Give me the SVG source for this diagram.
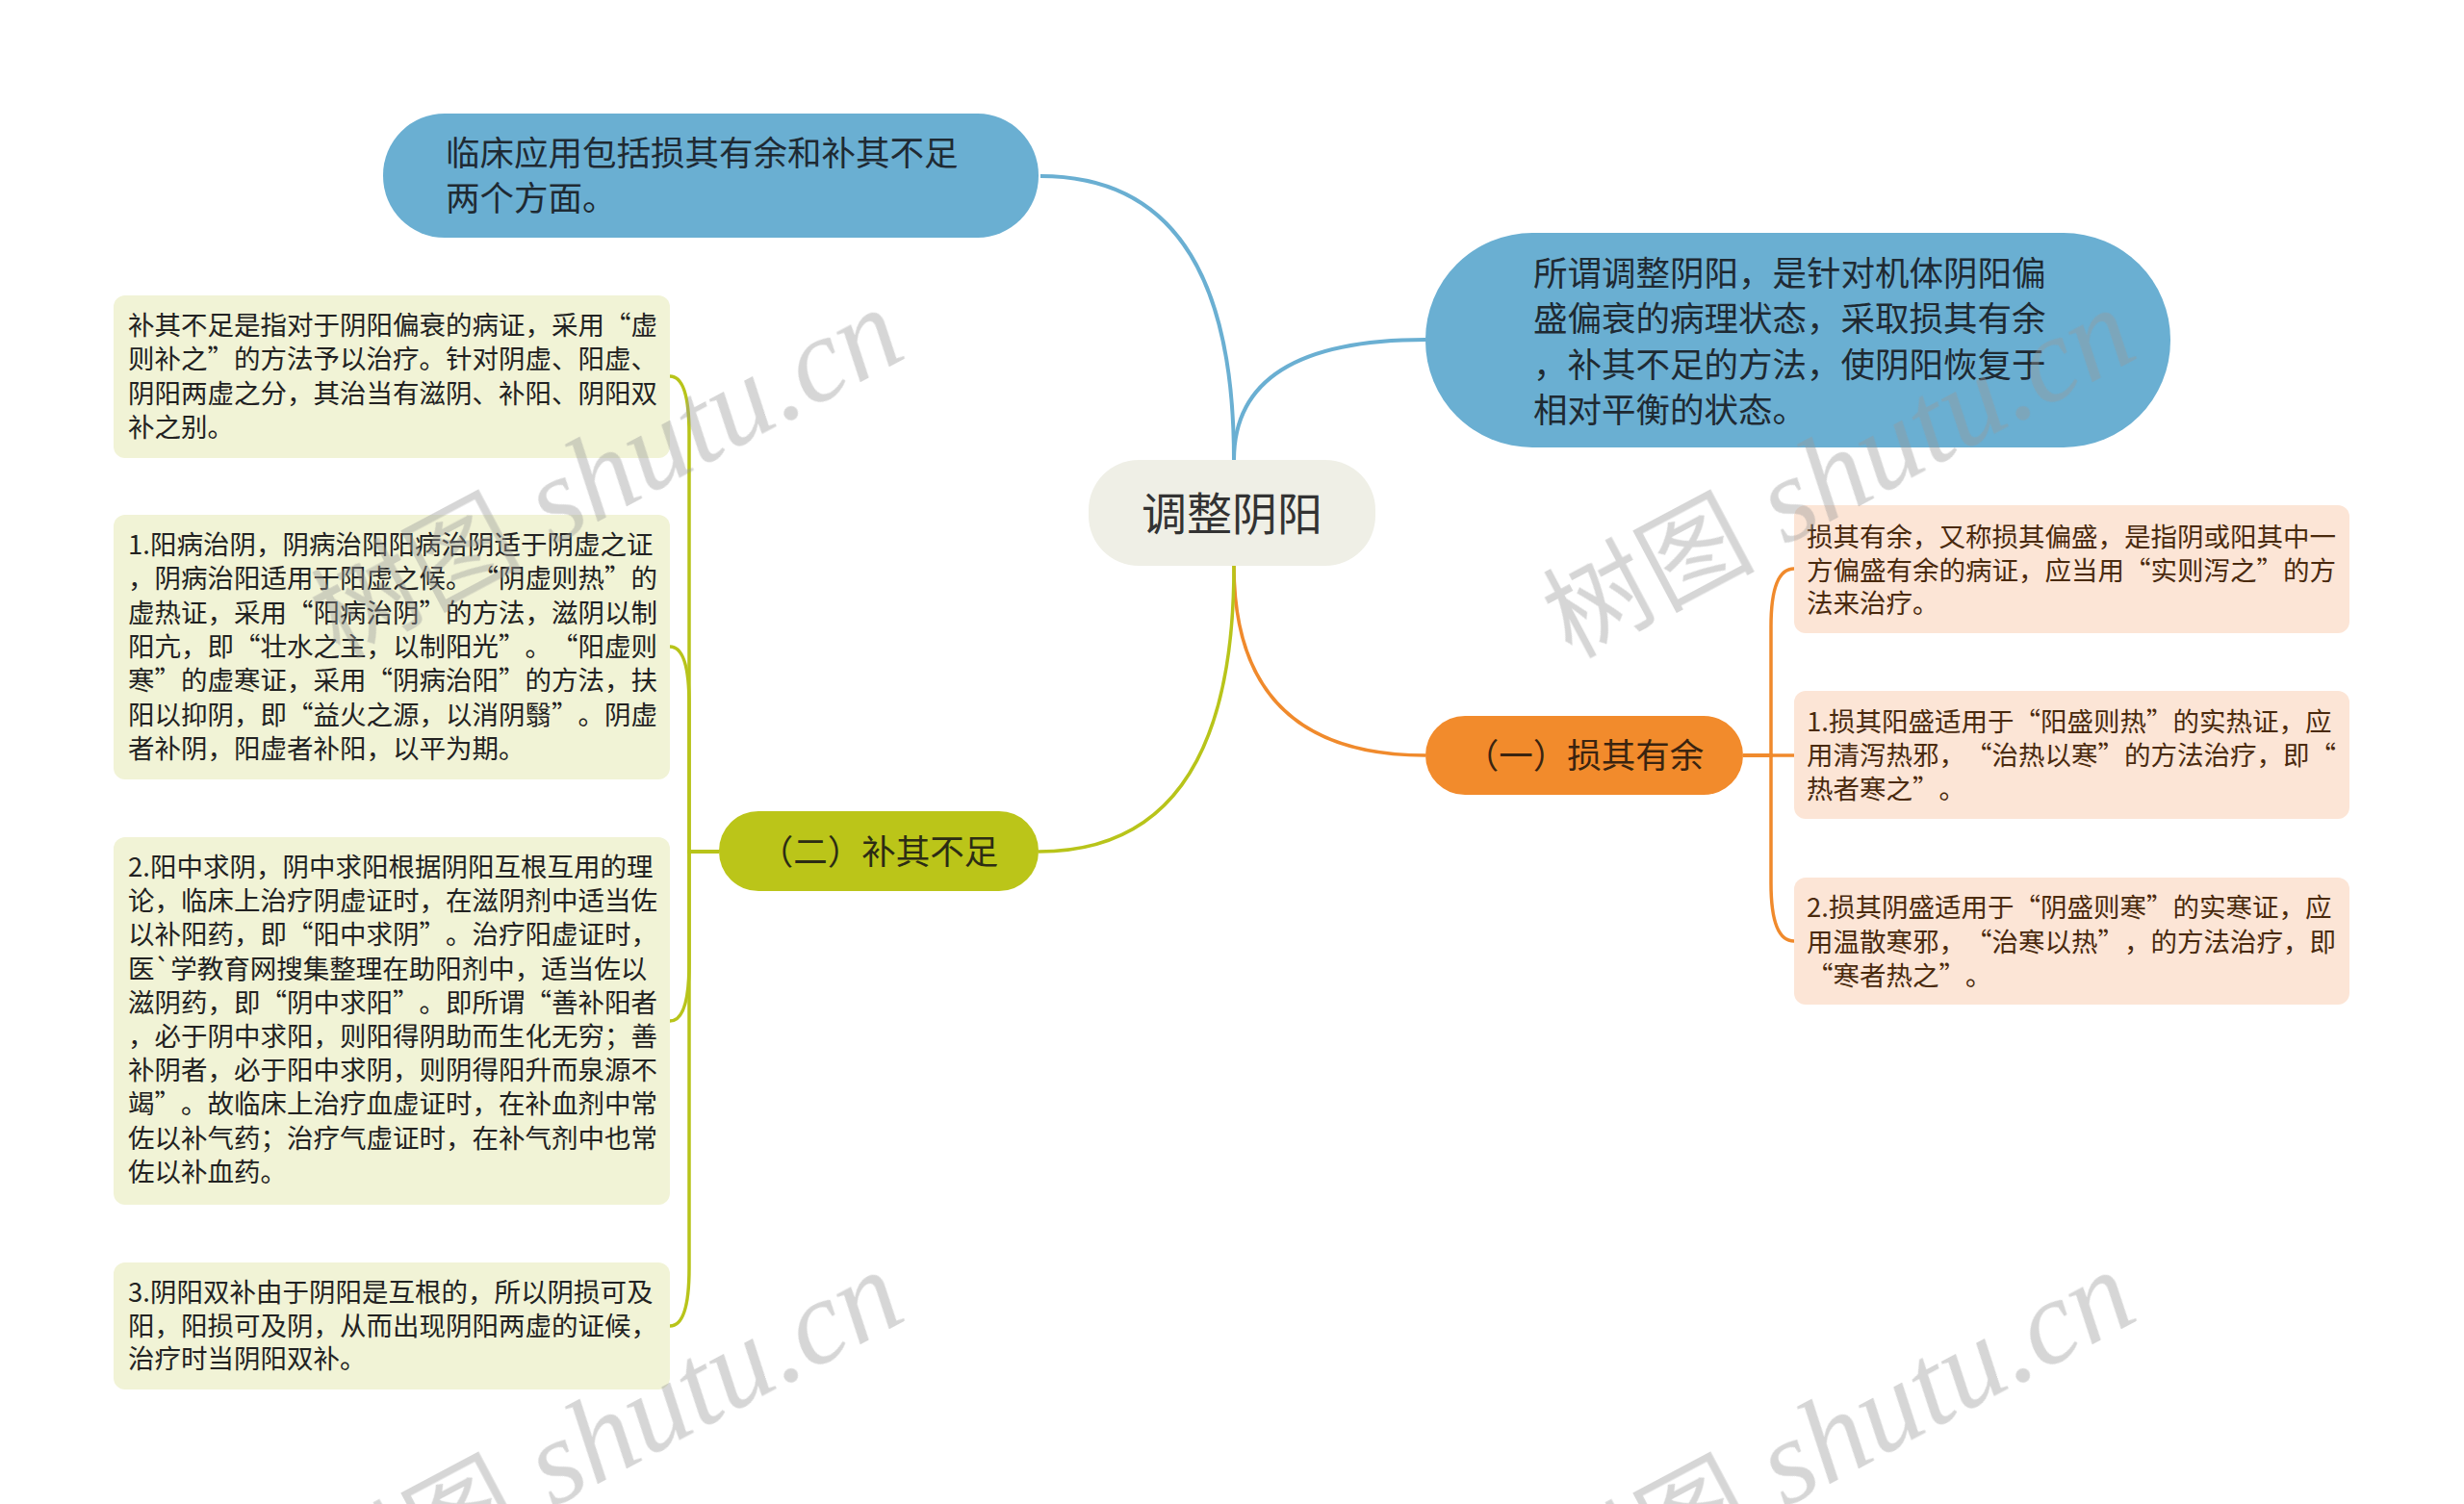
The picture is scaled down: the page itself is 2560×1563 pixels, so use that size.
<svg xmlns="http://www.w3.org/2000/svg" width="2560" height="1563" viewBox="0 0 2560 1563">
<style>
.t{font-family:"Noto Sans CJK SC","Noto Sans",sans-serif;text-spacing-trim:space-all;}
.big{font-size:35.5px;fill:#1f2a33;}
.root{font-size:47px;fill:#333333;}
.sm{font-size:27.5px;fill:#222222;}
.smo{font-size:27.5px;fill:#4a2a0e;}
.blue{fill:#6aafd2;}
.gbox{fill:#f1f3d6;}
.obox{fill:#fce5d6;}
.lb{fill:none;stroke:#6aafd2;stroke-width:4;}
.lo{fill:none;stroke:#f08a2c;stroke-width:3.5;}
.lg{fill:none;stroke:#b8c41a;stroke-width:3.5;}
.wm{fill:#9a9a9a;opacity:0.4;}
</style>
<rect width="2560" height="1563" fill="#ffffff"/>
<g id="connectors">
<path class="lb" d="M1282 478 Q1282 183 1081 183"/>
<path class="lb" d="M1282 478 Q1282 353 1481 353"/>
<path class="lo" d="M1282 588 Q1282 785 1481 785"/>
<path class="lg" d="M1282 588 Q1282 885 1079 885"/>
<path class="lo" d="M1811 785 H1840 V651 Q1840 591 1864 591"/>
<path class="lo" d="M1811 785 H1864"/>
<path class="lo" d="M1811 785 H1840 V918 Q1840 978 1864 978"/>
<path class="lg" d="M747 885 H716 V451 Q716 391 696 391"/>
<path class="lg" d="M747 885 H716 V732 Q716 672 696 672"/>
<path class="lg" d="M747 885 H716 V1001 Q716 1061 696 1061"/>
<path class="lg" d="M747 885 H716 V1318 Q716 1378 696 1378"/>
</g>
<g id="root">
<rect x="1131" y="478" width="298" height="110" rx="52" fill="#efefe6"/>
<text class="t root" x="1280" y="551" text-anchor="middle">调整阴阳</text>
</g>
<g id="n-clinic">
<rect class="blue" x="398" y="118" width="681" height="129" rx="64"/>
<text class="t big"><tspan x="463" y="172">临床应用包括损其有余和补其不足</tspan><tspan x="463" y="219">两个方面。</tspan></text>
</g>
<g id="n-define">
<rect class="blue" x="1481" y="242" width="774" height="223" rx="111"/>
<text class="t big"><tspan x="1593" y="297">所谓调整阴阳，是针对机体阴阳偏</tspan><tspan x="1593" y="344">盛偏衰的病理状态，采取损其有余</tspan><tspan x="1593" y="392">，补其不足的方法，使阴阳恢复于</tspan><tspan x="1593" y="439">相对平衡的状态。</tspan></text>
</g>
<g id="n-sun">
<rect x="1481" y="744" width="330" height="82" rx="41" fill="#f28b2c"/>
<text class="t big" x="1646" y="798" text-anchor="middle" style="fill:#3a2410">（一）损其有余</text>
</g>
<g id="n-bu">
<rect x="747" y="843" width="332" height="83" rx="41" fill="#bbc519"/>
<text class="t big" x="913" y="898" text-anchor="middle" style="fill:#2c2c14">（二）补其不足</text>
</g>
<g id="o1">
<rect class="obox" x="1864" y="525" width="577" height="133" rx="12"/>
<text class="t smo"><tspan x="1877" y="568">损其有余，又称损其偏盛，是指阴或阳其中一</tspan><tspan x="1877" y="602.5">方偏盛有余的病证，应当用“实则泻之”的方</tspan><tspan x="1877" y="637">法来治疗。</tspan></text>
</g>
<g id="o2">
<rect class="obox" x="1864" y="718" width="577" height="133" rx="12"/>
<text class="t smo"><tspan x="1877" y="760">1.损其阳盛适用于“阳盛则热”的实热证，应</tspan><tspan x="1877" y="795">用清泻热邪，“治热以寒”的方法治疗，即“</tspan><tspan x="1877" y="830">热者寒之”。</tspan></text>
</g>
<g id="o3">
<rect class="obox" x="1864" y="912" width="577" height="132" rx="12"/>
<text class="t smo"><tspan x="1877" y="953">2.损其阴盛适用于“阴盛则寒”的实寒证，应</tspan><tspan x="1877" y="988.5">用温散寒邪，“治寒以热”，的方法治疗，即</tspan><tspan x="1877" y="1024">“寒者热之”。</tspan></text>
</g>
<g id="g1">
<rect class="gbox" x="118" y="307" width="578" height="169" rx="12"/>
<text class="t sm"><tspan x="133" y="348">补其不足是指对于阴阳偏衰的病证，采用“虚</tspan><tspan x="133" y="383.3">则补之”的方法予以治疗。针对阴虚、阳虚、</tspan><tspan x="133" y="418.6">阴阳两虚之分，其治当有滋阴、补阳、阴阳双</tspan><tspan x="133" y="454">补之别。</tspan></text>
</g>
<g id="g2">
<rect class="gbox" x="118" y="535" width="578" height="275" rx="12"/>
<text class="t sm"><tspan x="133" y="576">1.阳病治阴，阴病治阳阳病治阴适于阴虚之证</tspan><tspan x="133" y="611.3">，阴病治阳适用于阳虚之候。“阴虚则热”的</tspan><tspan x="133" y="646.6">虚热证，采用“阳病治阴”的方法，滋阴以制</tspan><tspan x="133" y="682">阳亢，即“壮水之主，以制阳光”。“阳虚则</tspan><tspan x="133" y="717.2">寒”的虚寒证，采用“阴病治阳”的方法，扶</tspan><tspan x="133" y="752.5">阳以抑阴，即“益火之源，以消阴翳”。阴虚</tspan><tspan x="133" y="788">者补阴，阳虚者补阳，以平为期。</tspan></text>
</g>
<g id="g3">
<rect class="gbox" x="118" y="870" width="578" height="382" rx="12"/>
<text class="t sm"><tspan x="133" y="911">2.阳中求阴，阴中求阳根据阴阳互根互用的理</tspan><tspan x="133" y="946.2">论，临床上治疗阴虚证时，在滋阴剂中适当佐</tspan><tspan x="133" y="981.4">以补阳药，即“阳中求阴”。治疗阳虚证时，</tspan><tspan x="133" y="1016.6">医`学教育网搜集整理在助阳剂中，适当佐以</tspan><tspan x="133" y="1051.8">滋阴药，即“阴中求阳”。即所谓“善补阳者</tspan><tspan x="133" y="1087">，必于阴中求阳，则阳得阴助而生化无穷；善</tspan><tspan x="133" y="1122.2">补阴者，必于阳中求阴，则阴得阳升而泉源不</tspan><tspan x="133" y="1157.4">竭”。故临床上治疗血虚证时，在补血剂中常</tspan><tspan x="133" y="1192.6">佐以补气药；治疗气虚证时，在补气剂中也常</tspan><tspan x="133" y="1227.8">佐以补血药。</tspan></text>
</g>
<g id="g4">
<rect class="gbox" x="118" y="1312" width="578" height="132" rx="12"/>
<text class="t sm"><tspan x="133" y="1353">3.阴阳双补由于阴阳是互根的，所以阴损可及</tspan><tspan x="133" y="1387.5">阳，阳损可及阴，从而出现阴阳两虚的证候，</tspan><tspan x="133" y="1422">治疗时当阴阳双补。</tspan></text>
</g>
<g id="watermarks" class="wm">
<text transform="translate(945,370) rotate(-28)" text-anchor="end"><tspan style="font-family:'Noto Sans CJK SC',sans-serif;font-size:110px">树图</tspan><tspan style="font-family:'Liberation Serif',serif;font-style:italic;font-size:125px"> shutu.cn</tspan></text>
<text transform="translate(2225,370) rotate(-28)" text-anchor="end"><tspan style="font-family:'Noto Sans CJK SC',sans-serif;font-size:110px">树图</tspan><tspan style="font-family:'Liberation Serif',serif;font-style:italic;font-size:125px"> shutu.cn</tspan></text>
<text transform="translate(945,1370) rotate(-28)" text-anchor="end"><tspan style="font-family:'Noto Sans CJK SC',sans-serif;font-size:110px">树图</tspan><tspan style="font-family:'Liberation Serif',serif;font-style:italic;font-size:125px"> shutu.cn</tspan></text>
<text transform="translate(2225,1370) rotate(-28)" text-anchor="end"><tspan style="font-family:'Noto Sans CJK SC',sans-serif;font-size:110px">树图</tspan><tspan style="font-family:'Liberation Serif',serif;font-style:italic;font-size:125px"> shutu.cn</tspan></text>
</g>
</svg>
